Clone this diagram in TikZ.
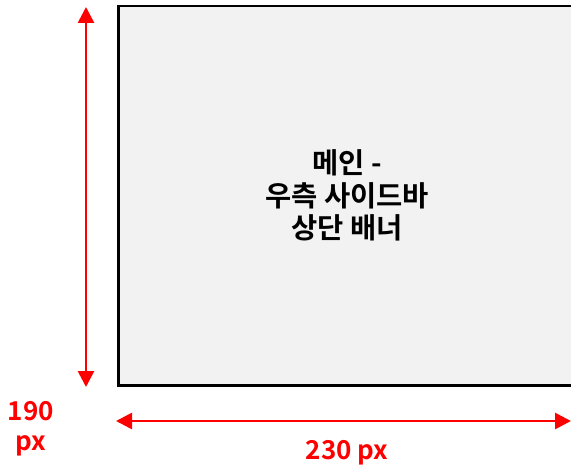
\documentclass[tikz,border=0pt]{standalone}
\usepackage{fontspec}
\setmainfont{Noto Sans CJK KR}[BoldFont={Noto Sans CJK KR Bold}]
\usetikzlibrary{arrows.meta}
\definecolor{boxfill}{HTML}{F2F2F2}
\definecolor{dimred}{HTML}{FF0000}
\begin{document}
\begin{tikzpicture}[x=1pt,y=-1pt,
  dimline/.style={draw=dimred,line width=2.7pt,{Triangle[length=16pt,width=16pt]}-{Triangle[length=16pt,width=16pt]}},
  dimlabel/.style={text=dimred,font=\bfseries\fontsize{26}{30}\selectfont,align=center,inner sep=0pt},
  panel/.style={draw=black,fill=boxfill,line width=2.7pt},
  paneltext/.style={font=\bfseries\fontsize{28.5}{32.5}\selectfont,align=center,inner sep=0pt}]
\useasboundingbox (0,0) rectangle (571,468);
\begin{scope}
\clip (0,0) rectangle (571,468);
\draw[panel] (118.7,6) rectangle (576,385.5);
\node[paneltext] (main) at (347,195.5) {메인 -\\우측 사이드바\\상단 배너};
\coordinate (vt) at (86,7);
\coordinate (vb) at (86,387);
\draw[dimline] (vt) -- (vb);
\coordinate (hl) at (116,421);
\coordinate (hr) at (571,421);
\draw[dimline] (hl) -- (hr);
\node[dimlabel] (hlab) at (31,429) {190\\px};
\node[dimlabel,anchor=base] (wlab) at (347,459) {230 px};
\end{scope}
\end{tikzpicture}
\end{document}
